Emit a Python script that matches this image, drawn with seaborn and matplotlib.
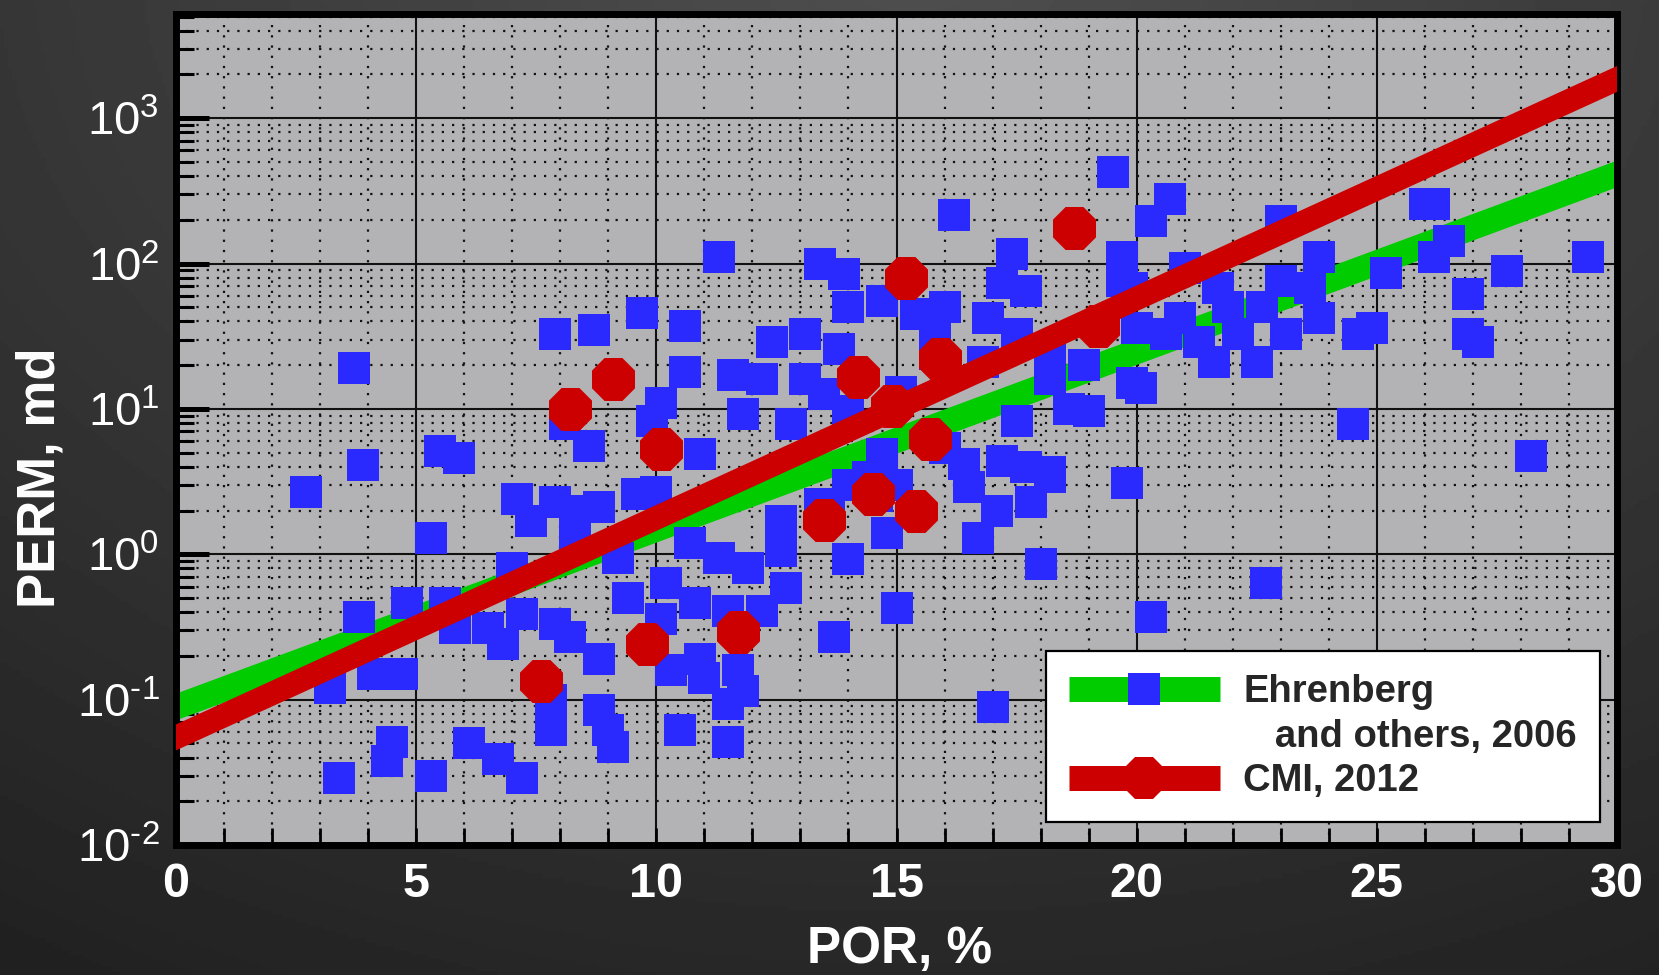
import numpy as np
import pandas as pd
import matplotlib
matplotlib.use("Agg")
import matplotlib.pyplot as plt
import seaborn as sns
from matplotlib.lines import Line2D
from matplotlib.ticker import LogLocator, MultipleLocator, NullFormatter, FuncFormatter

# ---------------- data ----------------
ehr_por = [2.7, 3.7, 3.9, 5.5, 5.9, 5.3, 3.8, 4.8, 5.6, 4.1, 4.7, 3.2, 4.5, 4.4, 3.4, 5.3, 6.1, 6.7, 7.2, 7.8,
           7.8, 9.0, 9.1, 5.8, 6.5, 7.2, 7.9, 8.2, 6.8, 8.8, 9.4, 7.0, 7.1, 7.4, 7.9, 8.3, 8.8, 8.3, 9.6, 9.2,
           10.0, 7.9, 8.7, 9.7, 8.6, 8.1, 9.9, 10.6, 10.6, 11.3, 10.1, 10.9, 11.8, 11.6, 12.2, 12.4, 13.1, 13.1, 13.5, 12.8,
           13.4, 13.9, 14.0, 14.7, 16.0, 15.4, 13.8, 15.8, 16.9, 17.5, 16.8, 18.2, 18.9, 18.2, 18.6, 19.0, 17.5, 17.2, 16.4, 18.2,
           19.9, 20.0, 15.1, 14.0, 14.7, 16.0, 14.4, 16.2, 19.5, 17.4, 17.2, 17.7, 19.7, 19.7, 10.7, 11.3, 11.9, 12.6, 12.6, 12.7,
           12.2, 11.5, 10.2, 10.8, 10.1, 10.9, 11.7, 10.3, 11.0, 11.8, 11.5, 10.5, 11.5, 8.8, 13.7, 15.0, 14.0, 18.0, 17.0, 13.6,
           14.8, 14.6, 13.4, 14.0, 15.0, 16.5, 16.7, 17.1, 17.8, 18.2, 19.8, 20.7, 20.3, 23.0, 26.2, 26.0, 26.5, 26.2, 26.9, 27.7,
           29.4, 25.2, 24.9, 24.6, 26.9, 27.1, 24.5, 28.2, 20.1, 21.6, 22.5, 23.8, 23.8, 23.0, 21.9, 22.6, 20.9, 20.6, 23.1, 21.3,
           19.9, 21.0, 22.7, 20.3, 15.8, 17.7, 22.1, 23.6, 21.7]
ehr_perm = [2.7, 19, 4.1, 5.1, 4.6, 1.3, 0.37, 0.46, 0.46, 0.15, 0.15, 0.12, 0.051, 0.038, 0.029, 0.030, 0.050, 0.039, 0.029, 0.10,
            0.062, 0.062, 0.047, 0.31, 0.31, 0.39, 0.33, 0.27, 0.24, 0.19, 0.50, 0.81, 2.4, 1.7, 2.3, 2.0, 2.1, 1.3, 2.6, 0.95,
            2.7, 33, 35, 46, 5.6, 7.9, 8.3, 37, 18, 110, 11, 4.9, 9.2, 17, 16, 29, 33, 16, 12.6, 7.9,
            100, 85, 50, 55, 50, 45, 26, 24, 42, 33, 21, 24, 20, 16, 10, 9.7, 8.3, 4.4, 4.2, 3.7,
            15, 36, 13, 9.7, 4.9, 5.4, 3.4, 215, 425, 116, 73, 65, 110, 76, 1.2, 0.95, 0.81, 1.06, 1.7, 0.59,
            0.41, 0.41, 0.63, 0.46, 0.36, 0.19, 0.16, 0.16, 0.14, 0.115, 0.093, 0.062, 0.051, 0.085, 0.27, 0.43, 0.93, 0.86, 0.089, 1.9,
            1.4, 2.5, 2.2, 3.0, 3.0, 2.9, 1.3, 2.0, 2.3, 3.4, 3.1, 280, 195, 195, 257, 257, 143, 110, 62, 89,
            110, 86, 36, 33, 33, 29, 7.9, 4.75, 14, 21, 21, 42, 110, 76, 50, 50, 42, 33, 33, 29,
            68, 93, 0.63, 0.37, 33, 4.0, 33, 68, 68]

cmi_por = [7.6, 8.2, 9.1, 10.1, 9.8, 11.7, 13.5, 14.2, 14.9, 14.5, 15.2, 15.4, 15.7, 15.9, 18.7, 19.2]
cmi_perm = [0.135, 10, 16, 5.3, 0.24, 0.29, 1.73, 16.7, 10.5, 2.6, 79, 2.0, 6.2, 22, 175, 37]

trend_por = [0, 30]
ehr_trend_perm = [0.089, 413]
cmi_trend_perm = [0.055, 1860]

x_ticks = [0, 5, 10, 15, 20, 25, 30]
x_label = "POR, %"
y_label = "PERM, md"
legend_labels = ["Ehrenberg", "   and others, 2006", "CMI, 2012"]

# ---------------- style ----------------
BLUE = "#2a2aff"
GREEN = "#00cc00"
RED = "#cc0000"
PANEL = "#b3b3b5"

sns.set_theme(style="white")
plt.rcParams["font.family"] = ["Liberation Sans", "DejaVu Sans"]
plt.rcParams["mathtext.fontset"] = "custom"
plt.rcParams["mathtext.rm"] = "Liberation Sans"
plt.rcParams["mathtext.default"] = "regular"
plt.rcParams["axes.unicode_minus"] = False

fig = plt.figure(figsize=(16.59, 9.75), dpi=100)

# dark gradient backdrop
bg = fig.add_axes([0, 0, 1, 1], zorder=-10)
gx, gy = np.meshgrid(np.linspace(0, 1, 400), np.linspace(0, 1, 240))
r = np.sqrt(((gx - 0.55) / 0.95) ** 2 + ((gy - 1.05) / 1.15) ** 2)
shade = np.clip(0.31 - 0.17 * r, 0.10, 0.35)
bg.imshow(shade, cmap="gray", vmin=0, vmax=1, origin="lower", aspect="auto", extent=[0, 1, 0, 1])
bg.set_axis_off()

ax = fig.add_axes([0.1061, 0.1333, 0.8686, 0.8523])
ax.set_facecolor(PANEL)
ax.set_yscale("log")
ax.set_xlim(0, 30)
ax.set_ylim(0.01, 5200)

df_e = pd.DataFrame({"POR": ehr_por, "PERM": ehr_perm})
df_c = pd.DataFrame({"POR": cmi_por, "PERM": cmi_perm})
df_t = pd.DataFrame({"POR": trend_por, "E": ehr_trend_perm, "C": cmi_trend_perm})

sns.lineplot(data=df_t, x="POR", y="E", color=GREEN, lw=18, ax=ax, zorder=2,
             solid_capstyle="projecting", legend=False)
sns.scatterplot(data=df_e, x="POR", y="PERM", marker="s", s=529, color=BLUE,
                linewidth=0, ax=ax, zorder=3, legend=False)
sns.lineplot(data=df_t, x="POR", y="C", color=RED, lw=17, ax=ax, zorder=4,
             solid_capstyle="projecting", legend=False)
sns.scatterplot(data=df_c, x="POR", y="PERM", marker="8", s=1122, color=RED,
                linewidth=0, ax=ax, zorder=5, legend=False)

# grids
ax.set_axisbelow(True)
ax.xaxis.set_major_locator(MultipleLocator(5))
ax.xaxis.set_minor_locator(MultipleLocator(1))
ax.yaxis.set_major_locator(LogLocator(base=10, numticks=20))
ax.yaxis.set_minor_locator(LogLocator(base=10, subs=np.arange(2, 10), numticks=20))
ax.yaxis.set_minor_formatter(NullFormatter())


def dec_label(v, pos):
    e = int(round(np.log10(v)))
    s = str(abs(e))
    if e < 0:
        s = "\u2010" + s
    return r"$10^{%s}$" % s


ax.yaxis.set_major_formatter(FuncFormatter(dec_label))
ax.grid(which="major", color="#111111", lw=1.5, ls="-", zorder=1)
ax.grid(which="minor", color="#111111", lw=1.6, ls=(0, (1, 3.6)), zorder=1)

for s in ax.spines.values():
    s.set_color("black")
    s.set_linewidth(5)
    s.set_visible(True)

ax.tick_params(axis="y", which="major", direction="in", length=24, width=3.6, color="black",
               labelsize=34, labelcolor="white", pad=12, left=True, right=False)
ax.tick_params(axis="y", which="minor", direction="in", length=13, width=2.2, color="black",
               left=True, right=False)
ax.tick_params(axis="x", which="both", direction="in", length=12, width=2, color="black",
               bottom=True, top=False)
ax.tick_params(axis="x", which="major", labelsize=35, labelcolor="white", pad=12)
ax.set_xticks(x_ticks)
for t in ax.get_xticklabels():
    t.set_fontweight("bold")

ax.set_xlabel(x_label, fontsize=37, fontweight="bold", color="white")
ax.set_ylabel(y_label, fontsize=38, fontweight="bold", color="white")
ax.xaxis.set_label_coords(0.502, -0.096)
ax.yaxis.set_label_coords(-0.0765, 0.442)

# legend
h1 = Line2D([], [], color=GREEN, lw=18, marker="s", markersize=23, markerfacecolor=BLUE,
            markeredgewidth=0, solid_capstyle="butt")
h2 = Line2D([], [], color="none", lw=0)
h3 = Line2D([], [], color=RED, lw=18, marker="8", markersize=33.5, markerfacecolor=RED,
            markeredgewidth=0, solid_capstyle="butt")
leg = ax.legend([h1, h2, h3], legend_labels, loc="lower right", bbox_to_anchor=(0.988, 0.0277),
                borderaxespad=0, frameon=True, fancybox=False, framealpha=1, facecolor="white",
                edgecolor="black", prop={"family": "Liberation Sans", "weight": "bold", "size": 27.5},
                handlelength=3.95, handletextpad=0.62, borderpad=0.6, labelspacing=0.22, numpoints=1)
leg.get_frame().set_linewidth(1.6)
leg.set_zorder(10)

fig.savefig("out.png", dpi=100, facecolor="#2e2e2e")
